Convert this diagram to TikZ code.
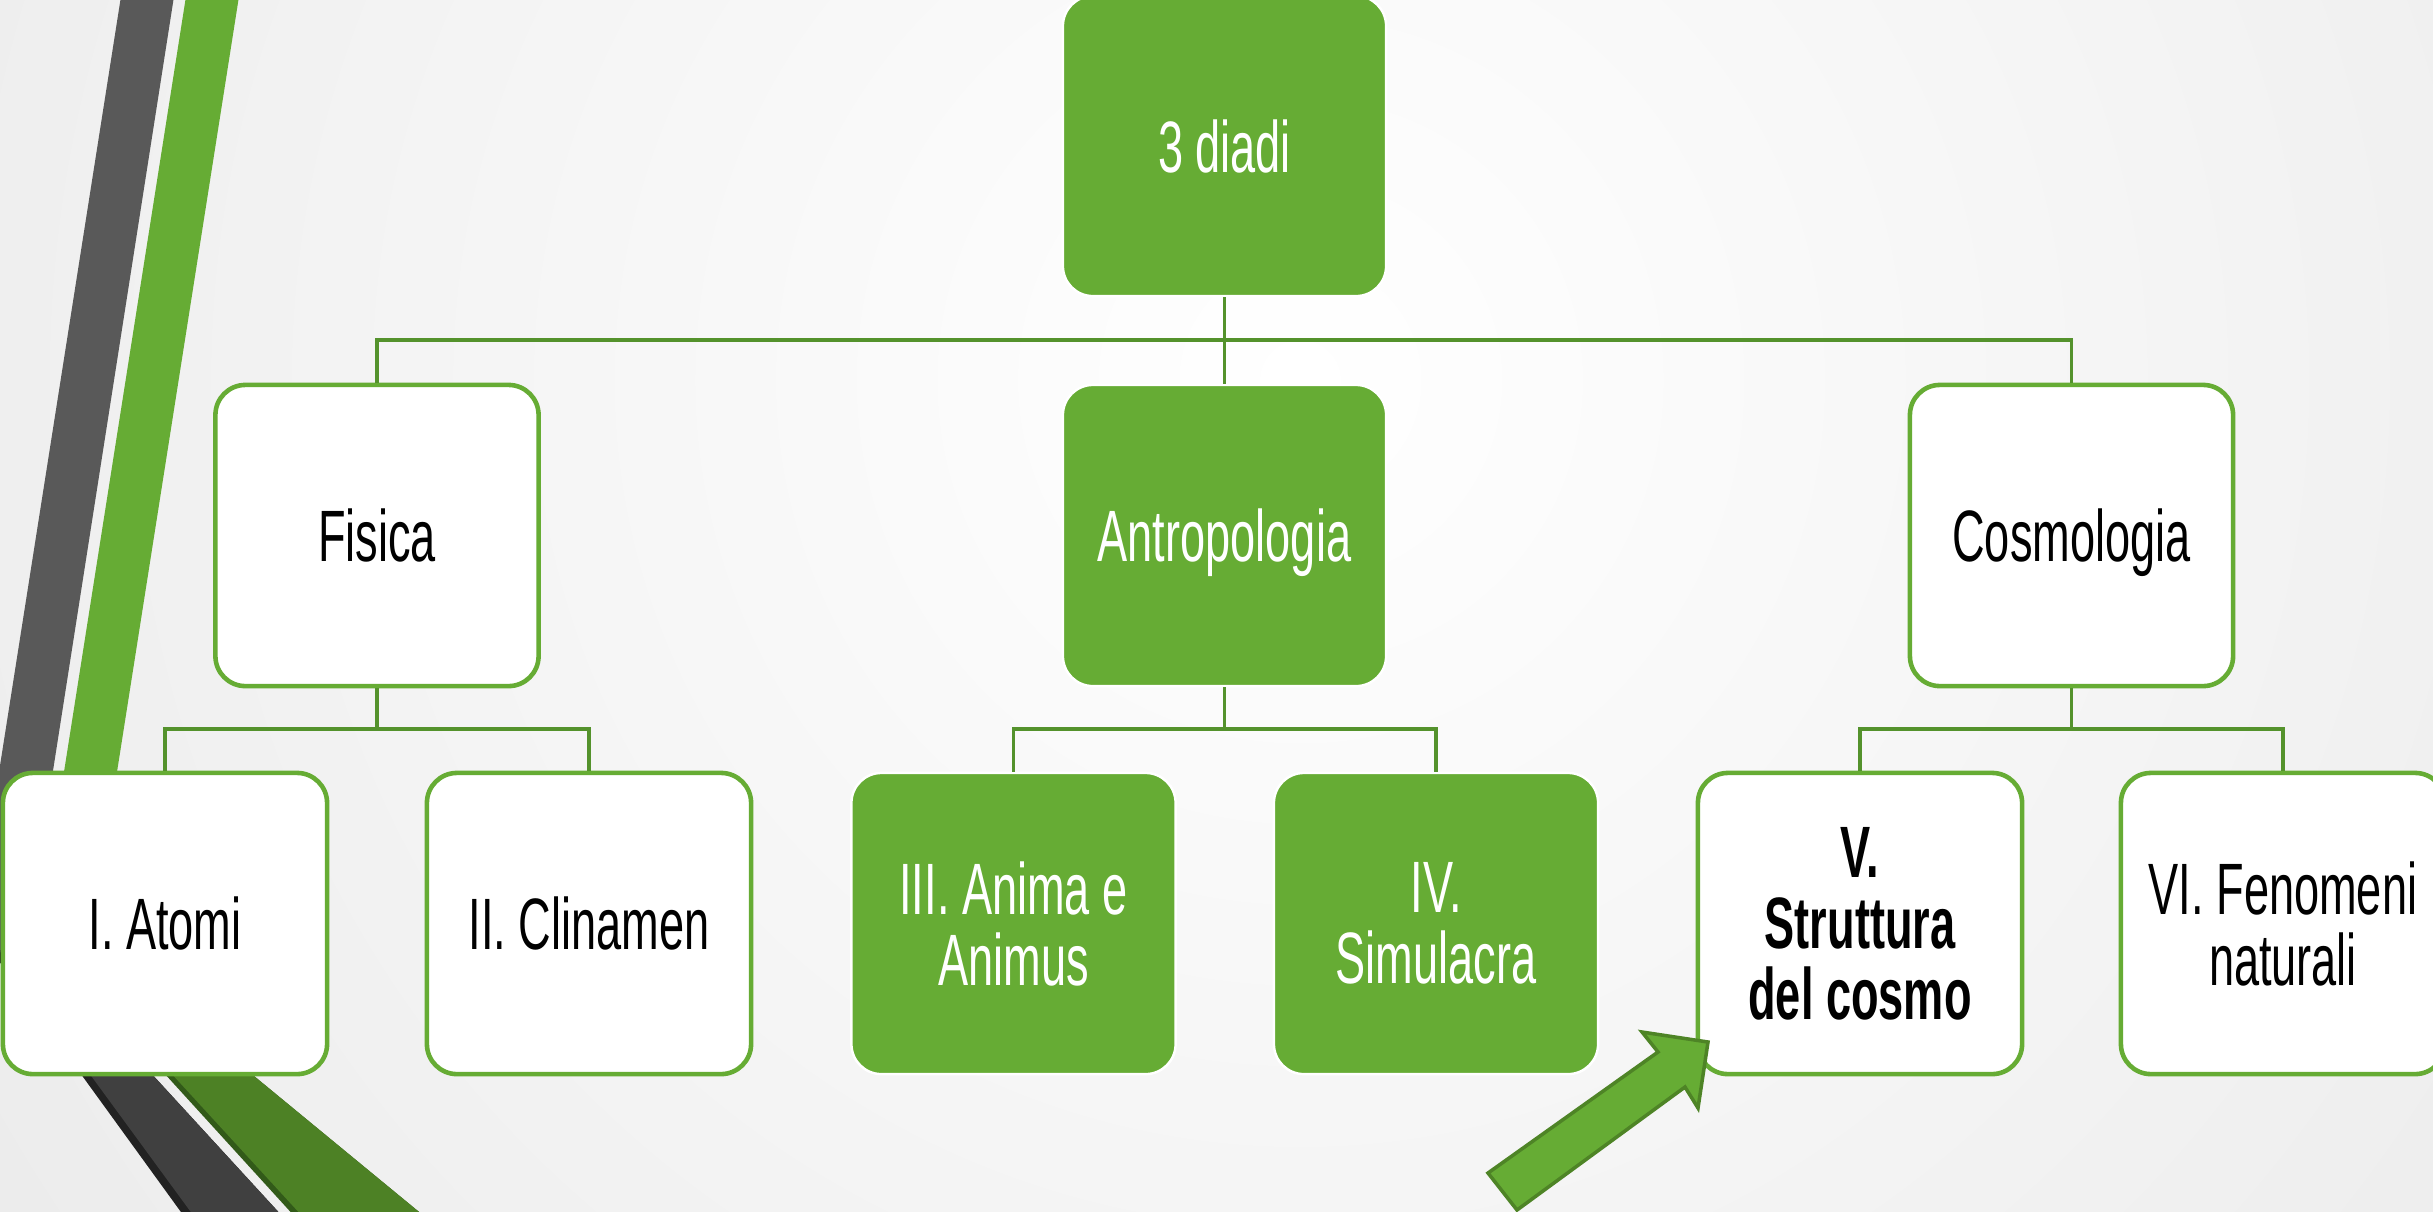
\documentclass[tikz,border=0pt]{standalone}
\usepackage{fontspec}
\setmainfont{Liberation Sans}[FakeStretch=0.62]
\definecolor{leaf}{RGB}{102,172,52}
\definecolor{linkgreen}{RGB}{84,146,44}
\definecolor{stripegray}{RGB}{89,89,89}
\definecolor{stripedark}{RGB}{64,64,64}
\definecolor{stripeshadow}{RGB}{34,34,34}
\definecolor{stripedeep}{RGB}{77,129,37}
\definecolor{stripedeepedge}{RGB}{50,90,25}
\definecolor{arrowedge}{RGB}{78,132,38}
\definecolor{bgout}{RGB}{224,224,224}
\begin{document}
\begin{tikzpicture}[x=0.01cm,y=-0.01cm,
  box/.style={rounded corners=0.3cm, minimum width=3.23cm, minimum height=3.01cm,
    inner sep=0pt, align=center, font=\fontsize{20.7}{20.2}\selectfont},
  greenbox/.style={box, fill=leaf, draw=white, line width=0.7pt, text=white},
  whitebox/.style={box, fill=white, draw=leaf, line width=1.3pt, text=black},
  link/.style={draw=linkgreen, line width=0.9pt}]

% page and background
\useasboundingbox (0,0) rectangle (2433,1211);
\begin{scope}
  \clip (0,0) rectangle (2433,1211);
  \fill[bgout] (0,0) rectangle (2433,1211);
  \shade[inner color=white, outer color=bgout] (1300,380) circle (25cm);

  % decorative stripes on the left
  \fill[stripegray] (122,-10) -- (175,-10) -- (25,950) -- (-29,950) -- cycle;
  \fill[leaf] (187,-10) -- (240,-10) -- (89,950) -- (36,950) -- cycle;
  \fill[stripeshadow] (-9,950) -- (194,1230) -- (295,1230) -- (38,950) -- cycle;
  \fill[stripedark] (-1,950) -- (204,1230) -- (295,1230) -- (38,950) -- cycle;
  \fill[stripedeepedge] (52,950) -- (307,1230) -- (441,1230) -- (101,950) -- cycle;
  \fill[stripedeep] (58,950) -- (315,1230) -- (441,1230) -- (101,950) -- cycle;
\end{scope}

% tree nodes
\node[greenbox, minimum height=3.0cm] (root) at (1224.5,146) {3 diadi};

\node[whitebox] (fis) at (377,535.5) {Fisica};
\node[greenbox, text depth=0pt] (antro) at (1224.5,535.5) {Antropologia};
\node[whitebox, text depth=0pt] (cosmo) at (2071.5,535.5) {Cosmologia};

\node[whitebox, minimum width=3.24cm] (atomi) at (165,923.5) {I. Atomi};
\node[whitebox, minimum width=3.24cm] (clin) at (589,923.5) {II. Clinamen};
\node[greenbox, minimum width=3.24cm] (anima) at (1013.5,923.5) {III. Anima e\\Animus};
\node[greenbox, minimum width=3.24cm] (simul) at (1436,923.5) {IV.\\Simulacra};
\node[whitebox, minimum width=3.24cm, font=\fontsize{20.7}{20.2}\selectfont\bfseries] (strut) at (1860,923.5) {V.\\Struttura\\del cosmo};
\node[whitebox, minimum width=3.24cm] (fenom) at (2283,923.5) {VI. Fenomeni\\naturali};

% connectors
\coordinate (bus0) at (1224.5,340);
\draw[link] (root.south) -- (antro.north);
\draw[link] (fis.north) |- (bus0) -| (cosmo.north);

\coordinate (busF) at (377,729);
\draw[link] (fis.south) -- (busF);
\draw[link] (atomi.north) |- (busF) -| (clin.north);

\coordinate (busA) at (1224.5,729);
\draw[link] (antro.south) -- (busA);
\draw[link] (anima.north) |- (busA) -| (simul.north);

\coordinate (busC) at (2071.5,729);
\draw[link] (cosmo.south) -- (busC);
\draw[link] (strut.north) |- (busC) -| (fenom.north);

% block arrow pointing at the fifth book
\filldraw[fill=leaf, draw=arrowedge, line width=1pt, line join=miter]
  (1488,1173) -- (1658,1052) -- (1642,1032) -- (1708,1042) -- (1698,1108)
  -- (1685,1087) -- (1517,1210) -- cycle;
\end{tikzpicture}
\end{document}
